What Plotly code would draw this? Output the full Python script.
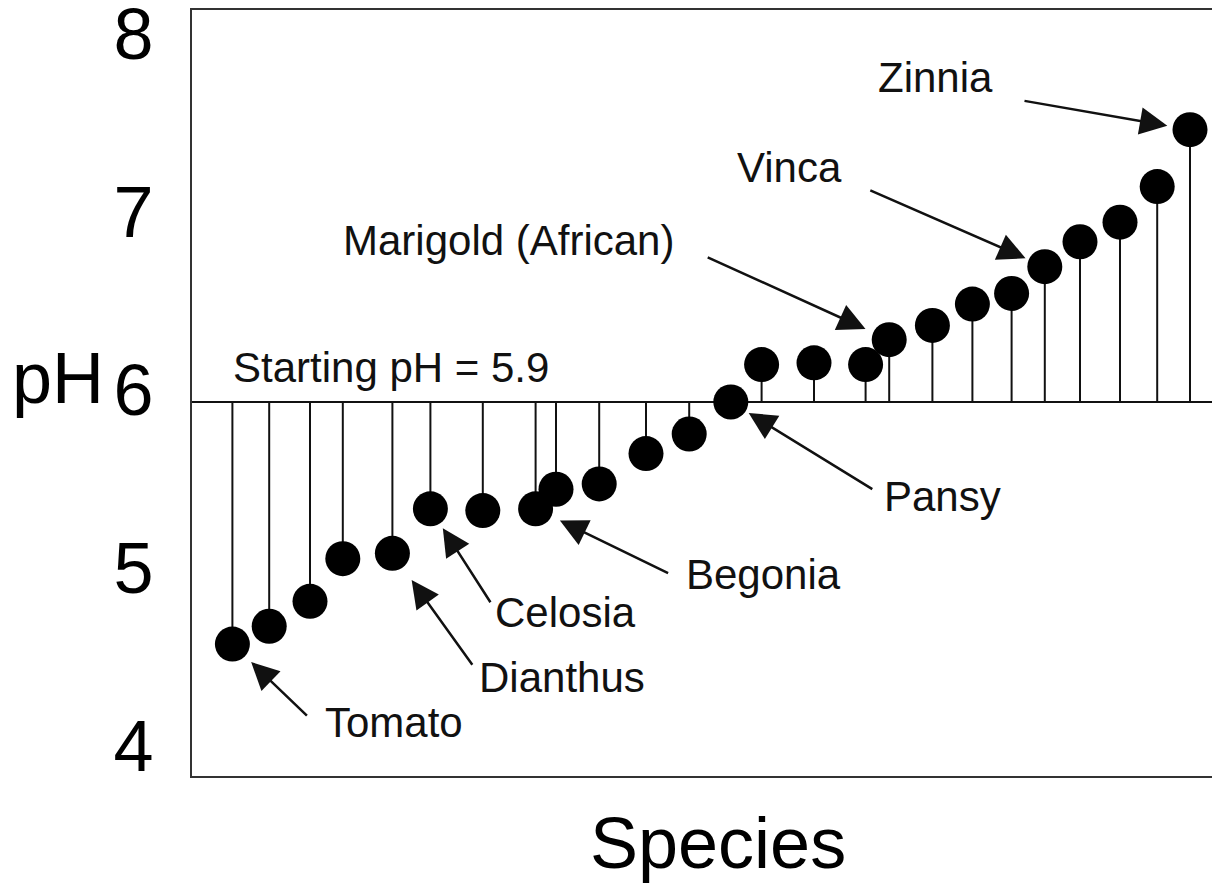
import plotly.graph_objects as go

# ---------------- data ----------------
STARTING_PH = 5.9

species_pos = [1.01, 1.93, 2.95, 3.77, 5.01, 5.96, 7.27, 8.59, 9.10, 10.18,
               11.35, 12.43, 13.47, 14.24, 15.55, 16.84, 17.43, 18.51, 19.51,
               20.49, 21.32, 22.20, 23.20, 24.13, 24.95]

final_ph = [4.54, 4.64, 4.78, 5.02, 5.05, 5.30, 5.29, 5.30, 5.41, 5.44,
            5.61, 5.72, 5.90, 6.11, 6.12, 6.11, 6.25, 6.33, 6.45, 6.51,
            6.66, 6.80, 6.91, 7.11, 7.43]

# labelled species: index into the series
label_names = ["Tomato", "Dianthus", "Celosia", "Begonia", "Pansy",
               "Marigold (African)", "Vinca", "Zinnia"]
label_index = [0, 4, 5, 7, 12, 16, 20, 24]

y_ticks = [4, 5, 6, 7, 8]
y_ticktext = ["4", "5", "6", "7", "8"]

# ---------------- styling / layout offsets (pixels) ----------------
arrow_tail = [(76, 73), (81, 113), (61, 95), (134, 65), (143, 88),
              (-183, -83), (-176, -77), (-167, -29)]
arrow_standoff = [26, 33, 23, 27, 21, 26, 21, 23]
text_shift = [(162, -78), (170, -124), (135, -104), (228, -66), (212, -95),
              (-381, 99), (-255, 99), (-255, 52)]

FONT = "Liberation Sans, Arial, Helvetica, sans-serif"
INK = "#111111"

# stems built from the data
stem_x, stem_y = [], []
for xv, yv in zip(species_pos, final_ph):
    stem_x += [xv, xv, None]
    stem_y += [STARTING_PH, yv, None]

fig = go.Figure()
fig.add_trace(go.Scatter(x=stem_x, y=stem_y, mode="lines",
                         line=dict(color=INK, width=2),
                         hoverinfo="skip", showlegend=False))
fig.add_trace(go.Scatter(x=species_pos, y=final_ph, mode="markers",
                         marker=dict(color="black", size=35),
                         showlegend=False))

# baseline at starting pH
fig.add_shape(type="line", xref="paper", x0=0, x1=1, yref="y",
              y0=STARTING_PH, y1=STARTING_PH,
              line=dict(color=INK, width=2), layer="below")

annotations = []
for name, idx, (ax, ay), so, (xs, ys) in zip(label_names, label_index,
                                             arrow_tail, arrow_standoff, text_shift):
    xv, yv = species_pos[idx], final_ph[idx]
    annotations.append(dict(x=xv, y=yv, xref="x", yref="y", text="",
                            showarrow=True, ax=ax, ay=ay, arrowhead=2,
                            arrowsize=2.2, arrowwidth=2.5, arrowcolor=INK,
                            standoff=so))
    annotations.append(dict(x=xv, y=yv, xref="x", yref="y", text=name,
                            showarrow=False, xshift=xs, yshift=ys,
                            xanchor="center", yanchor="middle",
                            font=dict(size=42, color=INK, family=FONT)))

annotations.append(dict(x=4.98, y=STARTING_PH, xref="x", yref="y",
                        text=f"Starting pH = {STARTING_PH}", showarrow=False,
                        yshift=34, xanchor="center", yanchor="middle",
                        font=dict(size=42, color=INK, family=FONT)))
annotations.append(dict(x=-0.131, y=6, xref="paper", yref="y", text="pH",
                        showarrow=False, yshift=6, xanchor="center",
                        yanchor="middle",
                        font=dict(size=72, color="black", family=FONT)))
annotations.append(dict(x=0.5157, y=-0.0875, xref="paper", yref="paper",
                        text="Species", showarrow=False, xanchor="center",
                        yanchor="middle",
                        font=dict(size=72, color="black", family=FONT)))

fig.update_layout(
    width=1212, height=884,
    margin=dict(l=192, r=0, t=10, b=108, autoexpand=False),
    plot_bgcolor="white", paper_bgcolor="white",
    annotations=annotations,
    xaxis=dict(range=[0, 25.5], showticklabels=False, showgrid=False,
               zeroline=False, showline=True, mirror=True, linewidth=2,
               linecolor="#333333", ticks="", automargin=False),
    yaxis=dict(range=[3.799, 8.102], tickvals=y_ticks, ticktext=y_ticktext,
               showgrid=False, zeroline=False, showline=True, linewidth=2,
               linecolor="#333333", ticks="", ticklabelstandoff=22,
               ticklabelshift=6,
               ticklabeloverflow="allow", automargin=False,
               tickfont=dict(size=72, color="black", family=FONT)),
    font=dict(family=FONT),
)

fig.write_html("out.html",
               config={"displayModeBar": False},
               post_script="document.body.style.margin='0';"
                           "document.body.style.overflow='hidden';")
